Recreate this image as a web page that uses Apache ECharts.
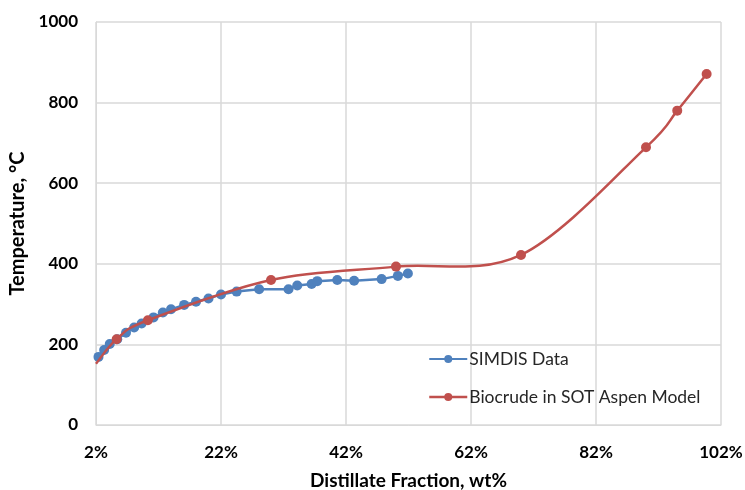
<!DOCTYPE html>
<html>
<head>
<meta charset="utf-8">
<script src="https://cdn.jsdelivr.net/npm/echarts@6/dist/echarts.min.js"></script>
<style>
  html, body { margin: 0; padding: 0; background: #fff; }
  #chart { width: 745px; height: 490px; }
</style>
</head>
<body>
<div id="chart"></div>
<script>
// distillate fraction (wt%) vs temperature (°C)
const simdisX = [2.4, 3.3, 4.2, 5.4, 6.8, 8.1, 9.3, 11.2, 12.7, 14.0, 16.1, 18.0, 20.0, 22.0, 24.5, 28.1, 32.8, 34.2, 36.5, 37.4, 40.6, 43.3, 47.7, 50.3, 51.9]
const simdisY = [169, 186, 201, 213, 229, 242, 252, 267, 279, 287, 298, 306, 314, 324, 331, 337, 337, 346, 350, 357, 360, 358, 362, 370, 376]

const aspenX = [2, 5.3, 10.3, 30, 50, 70, 90, 95, 99.7]
const aspenY = [152, 213, 260, 360, 393, 422, 689, 780, 871]

const xTicks = [2, 22, 42, 62, 82, 102]
const yTicks = [0, 200, 400, 600, 800, 1000]

const FONT = 'Lato'
const GRID_COLOR = '#d9d9d9'
const BLUE = '#4f81bd'
const RED = '#c0504d'
const ASPEN = 'Biocrude in SOT Aspen Model'

const chart = echarts.init(document.getElementById('chart'), null, { renderer: 'canvas' })

const simdisData = simdisX.map((x, i) => [x, simdisY[i]])
const aspenData = aspenX.map((x, i) => (i === 0 ? { value: [x, aspenY[i]], symbol: 'none' } : [x, aspenY[i]]))
const aspenPoints = aspenX.map((x, i) => [x, aspenY[i]])

// excel-style smoothed segment (catmull-rom as cubic bezier) from point i to i+1
function renderAspenSegment(params, api) {
  const i = params.dataIndex
  if (i >= aspenPoints.length - 1) return
  const p = (k) => api.coord(aspenPoints[Math.max(0, Math.min(aspenPoints.length - 1, k))])
  const p0 = p(i - 1), p1 = p(i), p2 = p(i + 1), p3 = p(i + 2)
  const c1 = [p1[0] + (p2[0] - p0[0]) / 6, p1[1] + (p2[1] - p0[1]) / 6]
  const c2 = [p2[0] - (p3[0] - p1[0]) / 6, p2[1] - (p3[1] - p1[1]) / 6]
  return {
    type: 'bezierCurve',
    shape: { x1: p1[0], y1: p1[1], cpx1: c1[0], cpy1: c1[1], cpx2: c2[0], cpy2: c2[1], x2: p2[0], y2: p2[1] },
    style: { stroke: RED, lineWidth: 2.5, fill: null },
    silent: true,
  }
}

chart.setOption({
  animation: false,
  textStyle: { fontFamily: FONT },
  grid: { left: 96, right: 24, top: 22, bottom: 65, outerBoundsMode: 'none', containLabel: false },
  legend: {
    orient: 'vertical',
    left: 423,
    top: 345,
    itemGap: 20,
    itemWidth: 38,
    itemHeight: 10,
    textStyle: { fontFamily: FONT, fontSize: 17.5, color: '#262626', padding: [0, 0, 0, -3] },
    data: [
      'SIMDIS Data',
      { name: ASPEN, lineStyle: { opacity: 1, width: 2.5, color: RED } },
    ],
  },
  xAxis: {
    type: 'value',
    min: xTicks[0],
    max: xTicks[xTicks.length - 1],
    interval: 20,
    name: 'Distillate Fraction, wt%',
    nameLocation: 'middle',
    nameGap: 46,
    nameTextStyle: { fontFamily: FONT, fontSize: 19, fontWeight: 'bold', color: '#000' },
    axisLine: { lineStyle: { color: GRID_COLOR, width: 1 } },
    axisTick: { show: false, customValues: xTicks },
    axisLabel: {
      customValues: xTicks,
      formatter: (v) => v + '%',
      margin: 19,
      fontFamily: FONT,
      fontSize: 17,
      fontWeight: 'bold',
      color: '#000',
    },
    splitLine: { show: true, lineStyle: { color: GRID_COLOR, width: 1.5 } },
  },
  yAxis: {
    type: 'value',
    min: yTicks[0],
    max: yTicks[yTicks.length - 1],
    interval: 200,
    name: 'Temperature, °C',
    nameLocation: 'middle',
    nameGap: 52,
    nameTextStyle: { fontFamily: FONT, fontSize: 20, fontWeight: 'bold', color: '#000' },
    axisLine: { show: true, lineStyle: { color: GRID_COLOR, width: 1 } },
    axisTick: { show: false },
    axisLabel: {
      margin: 18,
      formatter: (v) => String(v),
      fontFamily: FONT,
      fontSize: 17,
      fontWeight: 'bold',
      color: '#000',
    },
    splitLine: { show: true, lineStyle: { color: GRID_COLOR, width: 1.5 } },
  },
  series: [
    {
      name: 'SIMDIS Data',
      type: 'line',
      data: simdisData,
      symbol: 'circle',
      symbolSize: 10,
      itemStyle: { color: BLUE },
      lineStyle: { width: 2.5, color: BLUE },
      z: 2,
    },
    {
      type: 'custom',
      renderItem: renderAspenSegment,
      data: aspenPoints,
      itemStyle: { color: RED },
      z: 3,
      silent: true,
    },
    {
      name: ASPEN,
      type: 'line',
      data: aspenData,
      symbol: 'circle',
      symbolSize: 10,
      itemStyle: { color: RED },
      lineStyle: { width: 2.5, color: RED, opacity: 0 },
      z: 4,
    },
  ],
})
</script>
</body>
</html>
